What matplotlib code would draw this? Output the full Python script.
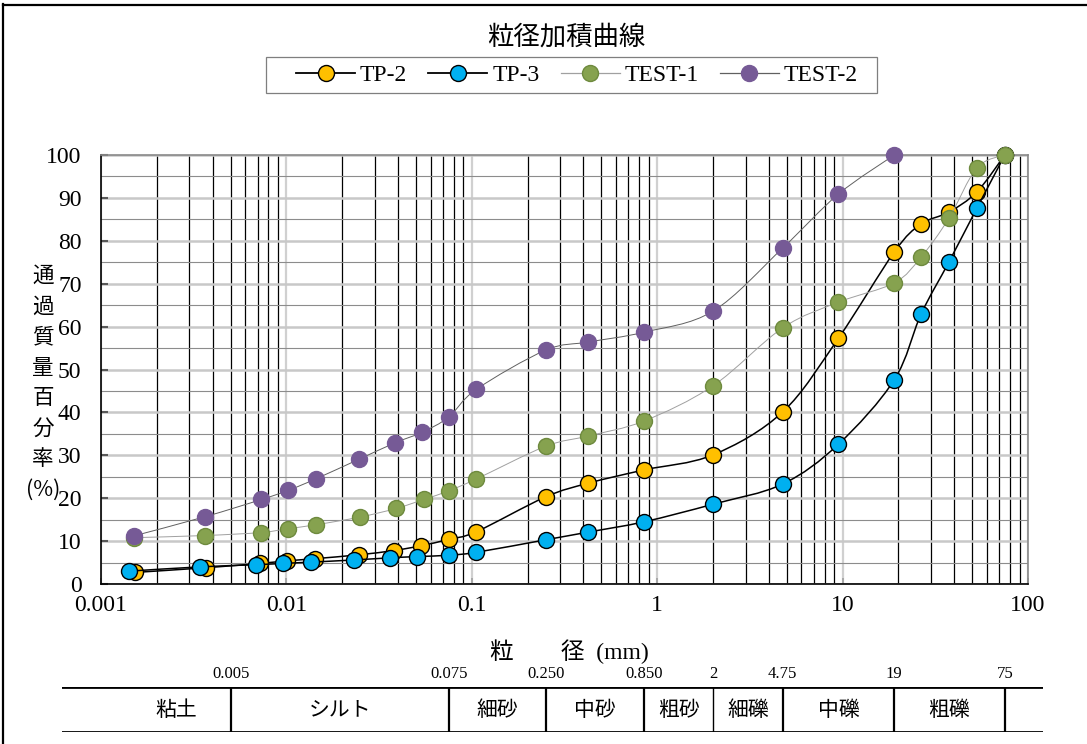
import numpy as np
import matplotlib
matplotlib.use('Agg')
import matplotlib.pyplot as plt
from matplotlib.path import Path
from matplotlib.patches import PathPatch, Rectangle
from matplotlib.lines import Line2D
from matplotlib.ticker import LogLocator, MultipleLocator, FixedLocator, NullFormatter

# 粒径 (mm) と通過質量百分率 (%)
sieve = [0.075, 0.106, 0.25, 0.425, 0.85, 2, 4.75, 9.5, 19, 26.5, 37.5, 53, 75]

tp2_d = [0.00153, 0.0037, 0.0072, 0.0101, 0.0142, 0.0245, 0.038, 0.053] + sieve
tp2_p = [2.7, 3.8, 4.8, 5.4, 5.9, 6.8, 7.8, 8.9, 10.4, 12.2, 20.3, 23.5, 26.6,
         30.1, 40.1, 57.3, 77.4, 83.9, 86.7, 91.4, 100]

tp3_d = [0.00142, 0.00344, 0.00688, 0.00963, 0.0136, 0.0231, 0.0362, 0.0509] + sieve
tp3_p = [3.0, 4.0, 4.5, 4.8, 5.1, 5.6, 6.1, 6.4, 6.7, 7.4, 10.3, 12.1, 14.5,
         18.6, 23.3, 32.6, 47.6, 62.9, 75.1, 87.6, 100]

test1_d = [0.0015, 0.00365, 0.0073, 0.0102, 0.0144, 0.0249, 0.039, 0.055] + sieve
test1_p = [10.8, 11.3, 12.0, 12.9, 13.8, 15.6, 17.6, 19.7, 21.7, 24.5, 32.1, 34.5,
           38.0, 46.2, 59.7, 65.7, 70.2, 76.2, 85.3, 97.0, 100]

test2_d = [0.0015, 0.00365, 0.00733, 0.0102, 0.0144, 0.0247, 0.0385, 0.0541] + sieve[:9]
test2_p = [11.2, 15.7, 19.7, 21.8, 24.5, 29.1, 32.9, 35.4, 38.9, 45.4, 54.5, 56.4,
           58.7, 63.6, 78.3, 90.9, 100]

x_ticks = [0.001, 0.01, 0.1, 1, 10, 100]
x_ticklabels = ['0.001', '0.01', '0.1', '1', '10', '100']

# 土質区分
bounds = [0.005, 0.075, 0.25, 0.85, 2, 4.75, 19, 75]
bound_labels = ['0.005', '0.075', '0.250', '0.850', '2', '4.75', '19', '75']
soil_lo = [0.0013, 0.005, 0.075, 0.25, 0.85, 2, 4.75, 19]
soil_hi = [0.005, 0.075, 0.25, 0.85, 2, 4.75, 19, 75]
soil_names = ['粘土', 'シルト', '細砂', '中砂', '粗砂', '細礫', '中礫', '粗礫']

JP = ['Noto Sans CJK JP', 'DejaVu Sans']
SERIF = ['Liberation Serif', 'Noto Sans CJK JP']


def smooth_path(xs, ys):
    """Excel風のスムージング線 (log軸上の3次ベジェ)"""
    pts = np.column_stack([np.log10(xs), ys])
    n = len(pts)
    verts = [pts[0]]
    codes = [Path.MOVETO]
    for i in range(n - 1):
        p0 = pts[max(i - 1, 0)]
        p1 = pts[i]
        p2 = pts[i + 1]
        p3 = pts[min(i + 2, n - 1)]
        verts += [p1 + (p2 - p0) / 6, p2 - (p3 - p1) / 6, p2]
        codes += [Path.CURVE4] * 3
    verts = np.array(verts)
    verts[:, 0] = 10 ** verts[:, 0]
    return Path(verts, codes)


W, H = 1087, 744
fig = plt.figure(figsize=(W / 100, H / 100), dpi=100)

# グラフ領域 (ピクセル指定)
ax_l, ax_r, ax_t, ax_b = 101, 1028, 155, 584
ax = fig.add_axes([ax_l / W, 1 - ax_b / H, (ax_r - ax_l) / W, (ax_b - ax_t) / H])
ax.set_xscale('log')
ax.set_xlim(0.001, 100)
ax.set_ylim(0, 100)

ax.xaxis.set_major_locator(FixedLocator(x_ticks))
ax.set_xticklabels(x_ticklabels)
ax.xaxis.set_minor_locator(LogLocator(base=10, subs=np.arange(2, 10)))
ax.xaxis.set_minor_formatter(NullFormatter())
ax.yaxis.set_major_locator(MultipleLocator(10))
ax.yaxis.set_minor_locator(MultipleLocator(5))

ax.grid(which='major', axis='x', color='#d0d0d0', lw=1.6)
ax.grid(which='minor', axis='x', color='black', lw=0.9)
ax.grid(which='major', axis='y', color='#c8c8c8', lw=1.8)
ax.grid(which='minor', axis='y', color='#8c8c8c', lw=0.8)
ax.set_axisbelow(True)

ax.tick_params(axis='y', which='major', direction='in', length=5, width=1.5,
               color='#595959', pad=14, labelsize=17)
ax.tick_params(axis='x', which='major', direction='in', length=4, width=1.2,
               color='#a0a0a0', pad=8, labelsize=17)
ax.tick_params(which='minor', length=0)
for lab in ax.get_xticklabels() + ax.get_yticklabels():
    lab.set_family(SERIF)

ax.spines['left'].set_color('black')
ax.spines['bottom'].set_color('black')
ax.spines['top'].set_color('#898989')
ax.spines['right'].set_color('#898989')
for s in ax.spines.values():
    s.set_linewidth(1.2)

series = [
    ('TP-2', tp2_d, tp2_p, 'black', 1.1, '#FFC000', 'black'),
    ('TP-3', tp3_d, tp3_p, 'black', 1.1, '#00B0F0', 'black'),
    ('TEST-1', test1_d, test1_p, '#a0a0a0', 0.7, '#86A24F', '#6E8A3E'),
    ('TEST-2', test2_d, test2_p, '#606060', 0.7, '#765A96', '#765A96'),
]

handles = []
for z, (name, d, p, lc, lw, fc, ec) in enumerate(series):
    ax.add_patch(PathPatch(smooth_path(d, p), facecolor='none', edgecolor=lc,
                           lw=lw, zorder=3 + z, clip_on=False))
    ax.plot(d, p, ls='none', marker='o', ms=11.5, mfc=fc, mec=ec, mew=1.0,
            zorder=3 + z, clip_on=False)
    handles.append(Line2D([], [], color=lc, lw=lw + 0.2, marker='o', ms=11.5,
                          mfc=fc, mec=ec, mew=1.0, label=name))

fig.text(566 / W, 1 - 37 / H, '粒径加積曲線', ha='center', va='center',
         fontsize=19, family=JP)

# 凡例 (枠は別に描く)
fig.add_artist(Rectangle((266 / W, 1 - 93 / H), (877 - 266) / W, 36 / H,
                         transform=fig.transFigure, facecolor='white',
                         edgecolor='#7f7f7f', lw=0.9))
fig.legend(handles=handles, loc='center', bbox_to_anchor=(577 / W, 1 - 75 / H),
           ncol=4, frameon=False, handlelength=2.5, handletextpad=0.2,
           columnspacing=0.9, borderpad=0.2, prop={'family': SERIF, 'size': 17})

fig.text(43 / W, 1 - 383 / H, '通\n過\n質\n量\n百\n分\n率\n(%)', ha='center',
         va='center', fontsize=15.5, family=JP, linespacing=1.5)

fig.text(569 / W, 1 - 652 / H, '粒　　径  (mm)', ha='center', va='center',
         fontsize=17, family=SERIF)

# 土質区分の表 (グラフと同じ対数目盛)
dec_px = (ax_r - ax_l) / 5
tb_l, tb_r, tb_t, tb_b = 62, 1043, 687, 732
tax = fig.add_axes([tb_l / W, 1 - tb_b / H, (tb_r - tb_l) / W, (tb_b - tb_t) / H])
tax.set_xscale('log')
tax.set_xlim(10 ** (-3 - (ax_l - tb_l) / dec_px), 10 ** (-3 + (tb_r - ax_l) / dec_px))
tax.set_ylim(0, 1)
tax.axis('off')
tax.axhline(1, color='black', lw=2.0)
tax.axhline(0, color='black', lw=2.0)
for b, lab in zip(bounds, bound_labels):
    tax.axvline(b, color='black', lw=1.0 if b == 2 else 1.6)
    tax.text(b, 1.3, lab, ha='center', va='center', fontsize=12, family=SERIF)
for lo, hi, name in zip(soil_lo, soil_hi, soil_names):
    tax.text(np.sqrt(lo * hi), 0.5, name, ha='center', va='center',
             fontsize=15, family=JP)

# 外枠
fig.add_artist(Line2D([2.5 / W, 2.5 / W], [0, 1 - 4 / H], color='black', lw=1.6))
fig.add_artist(Line2D([2.5 / W, 1], [1 - 5 / H, 1 - 5 / H], color='black', lw=1.6))

fig.savefig('out.png', dpi=100)
